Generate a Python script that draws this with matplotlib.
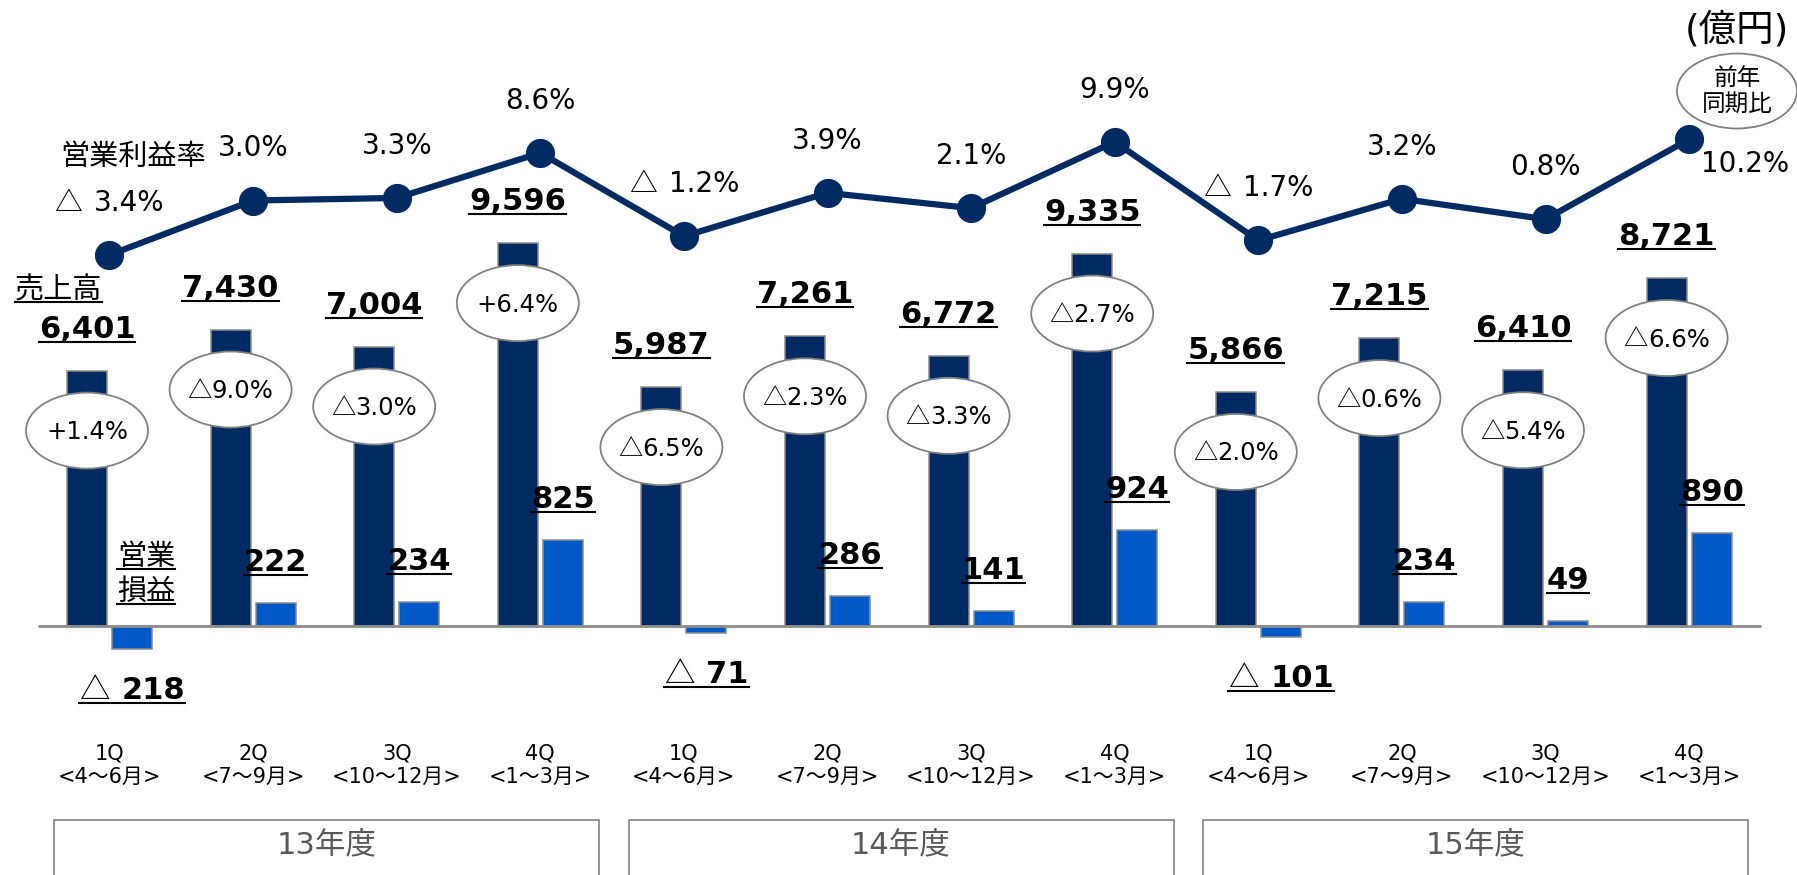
import matplotlib
matplotlib.use("Agg")
import matplotlib.pyplot as plt
import numpy as np
from matplotlib.patches import Ellipse, Rectangle
from matplotlib.lines import Line2D
from matplotlib.transforms import IdentityTransform, blended_transform_factory

plt.rcParams['font.family'] = ['DejaVu Sans', 'Noto Sans CJK JP']

###
# Data
###
quarters  = ["1Q", "2Q", "3Q", "4Q"] * 3
months    = ["<4～6月>", "<7～9月>", "<10～12月>", "<1～3月>"] * 3
years     = ["13年度", "14年度", "15年度"]
sales     = [6401, 7430, 7004, 9596, 5987, 7261, 6772, 9335, 5866, 7215, 6410, 8721]   # 売上高 (億円)
op_income = [-218, 222, 234, 825, -71, 286, 141, 924, -101, 234, 49, 890]           # 営業損益 (億円)
op_margin = [-3.4, 3.0, 3.3, 8.6, -1.2, 3.9, 2.1, 9.9, -1.7, 3.2, 0.8, 10.2]         # 営業利益率 (%)
sales_yoy = [1.4, -9.0, -3.0, 6.4, -6.5, -2.3, -3.3, -2.7, -2.0, -0.6, -5.4, -6.6]   # 前年同期比 (%)

NAVY = "#002b62"
BLUE = "#0059c8"
GRAY = "#8c8c8c"
LAT = ["DejaVu Sans", "Noto Sans CJK JP"]
CJK = ["Noto Sans CJK JP", "DejaVu Sans"]

###
# Layout (pixels) and scales
###
W, H = 1797, 875
x0_px, step_px = 109.5, 143.6     # first group centre, group spacing
base_px = 626                      # zero line, from top
rev_k, op_k = 0.0399, 0.1042       # px per 億円
m0_px, m_k = 226, 8.5              # margin 0% line from top, px per %

fig = plt.figure(figsize=(W / 100, H / 100), dpi=100)
ax = fig.add_axes([0, 0, 1, 1])
ax_op = ax.twinx()
ax_m = ax.twinx()
for a in (ax, ax_op, ax_m):
    a.set_position([0, 0, 1, 1])
    a.axis("off")

ax.set_xlim(-x0_px / step_px, (W - x0_px) / step_px)
ax.set_ylim(-(H - base_px) / rev_k, base_px / rev_k)
ax_op.set_ylim(-(H - base_px) / op_k, base_px / op_k)
ax_m.set_ylim(-(H - m0_px) / m_k, m0_px / m_k)

x = np.arange(len(sales))
bw = 40 / step_px
off = 22.5 / step_px

ax.bar(x - off, sales, bw, color=NAVY, edgecolor=GRAY, lw=1.1, zorder=2)
ax_op.bar(x + off, op_income, bw, color=BLUE, edgecolor=GRAY, lw=1.1, zorder=2)
ax_op.hlines(0, -0.5, 11.5, color=GRAY, lw=2, zorder=3)
ax_m.plot(x, op_margin, color=NAVY, lw=4.5, marker="o", ms=20, zorder=4)

ID = IdentityTransform()
renderer = fig.canvas.get_renderer()


def to_px(a, xv, yv):
    return a.transData.transform((xv, yv))


def label(xp, yb, parts, size, ha="center", gap=10, uline=True):
    # parts: list of (text, weight, family); yb = baseline in display px
    texts, widths = [], []
    for s, wgt, fam in parts:
        t = fig.text(0, yb, s, transform=ID, fontsize=size, fontweight=wgt, family=fam,
                     ha="left", va="baseline", zorder=6)
        texts.append(t)
        widths.append(t.get_window_extent(renderer).width)
    total = sum(widths) + gap * (len(parts) - 1)
    left = xp - total / 2 if ha == "center" else xp
    cur = left
    for t, wd in zip(texts, widths):
        t.set_x(cur)
        cur += wd + gap
    if uline:
        fig.add_artist(Line2D([left, left + total], [yb - 4, yb - 4], transform=ID,
                              color="black", lw=1.5, zorder=6))


def signed(v, plus="", space=True):
    if v < 0:
        return [("△", "normal", CJK), (f"{-v:.1f}%", "normal", LAT)], (12 if space else 0)
    return [(f"{plus}{v:.1f}%", "normal", LAT)], 0


# sales labels
for i, v in enumerate(sales):
    xp, yp = to_px(ax, i - off, v)
    label(xp, yp + 33, [(f"{v:,}", "bold", LAT)], 22)

# operating income labels
for i, v in enumerate(op_income):
    xp, yp = to_px(ax_op, i + off, v)
    if v >= 0:
        label(xp, yp + 32, [(str(v), "bold", LAT)], 22)
    else:
        label(xp, yp - 50, [("△", "normal", CJK), (str(-v), "bold", LAT)], 22, gap=12)

# margin labels
for i, v in enumerate(op_margin):
    xp, yp = to_px(ax_m, i, v)
    parts, gap = signed(v)
    if i == len(op_margin) - 1:
        label(xp + 56, yp - 33, parts, 20, gap=gap, uline=False)
    else:
        label(xp, yp + 44, parts, 20, gap=gap, uline=False)

# year-on-year ellipses
for i, v in enumerate(sales_yoy):
    xp, yp = to_px(ax, i - off, sales[i])
    cy = yp - 60
    fig.add_artist(Ellipse((xp, cy), 122, 76, transform=ID, facecolor="white",
                           edgecolor="#808080", lw=1.3, zorder=5))
    parts, gap = signed(v, plus="+", space=False)
    label(xp, cy - 8.5, parts, 17.5, gap=gap, uline=False)

# category labels and fiscal-year boxes
bt = blended_transform_factory(ax.transData, ID)
for i in range(len(sales)):
    ax.text(i, H - 765, f"{quarters[i]}\n{months[i]}", transform=bt, ha="center",
            va="center", fontsize=15, linespacing=1.2)
for k, yname in enumerate(years):
    ax.add_patch(Rectangle((4 * k - 0.385, -20), 3.795, (H - 820) + 20, transform=bt,
                           fill=False, edgecolor=GRAY, lw=1.3, clip_on=False))
    ax.text(4 * k + 1.512, H - 845, yname, transform=bt, ha="center", va="center",
            fontsize=22, color="#595959")

# series names and units
fig.text(133, H - 157, "営業利益率", transform=ID, ha="center", va="center", fontsize=21)
label(15, H - 298, [("売上高", "normal", CJK)], 21, ha="left")
label(117, H - 565, [("営業", "normal", CJK)], 21, ha="left")
label(117, H - 600, [("損益", "normal", CJK)], 21, ha="left")
fig.text(1737, H - 30, "(億円)", transform=ID, ha="center", va="center", fontsize=27)
fig.add_artist(Ellipse((1737, H - 91), 120, 75, transform=ID, facecolor="white",
                       edgecolor="#808080", lw=1.3, zorder=5))
fig.text(1737, H - 91, "前年\n同期比", transform=ID, ha="center", va="center",
         fontsize=17, linespacing=1.1, zorder=6)

fig.savefig("out.png", dpi=100)
